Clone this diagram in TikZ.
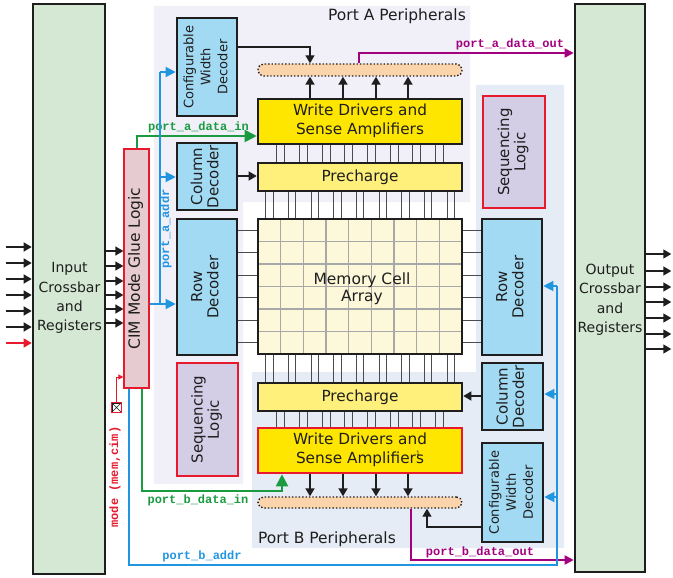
\documentclass[tikz,border=0pt]{standalone}
\usepackage{fontspec}
\usepackage{graphicx}
\setmainfont{DejaVu Sans}
\setmonofont{Liberation Mono}
\usetikzlibrary{arrows.meta,calc}
\definecolor{xbgreen}{HTML}{D5E8D4}
\definecolor{decblue}{HTML}{A2DAF3}
\definecolor{seqfill}{HTML}{D3CDE6}
\definecolor{gluefill}{HTML}{E6CCD1}
\definecolor{wdyellow}{HTML}{FFE600}
\definecolor{preyellow}{HTML}{FFF07C}
\definecolor{arrfill}{HTML}{FDF8D9}
\definecolor{busfill}{HTML}{FBD4AC}
\definecolor{bgA}{HTML}{F1EFF8}
\definecolor{bgB}{HTML}{E5ECF5}
\definecolor{sigred}{HTML}{E8192C}
\definecolor{siggreen}{HTML}{1A9B40}
\definecolor{sigblue}{HTML}{2196E0}
\definecolor{sigmag}{HTML}{A3007F}
\definecolor{ink}{HTML}{1E1E1E}
\definecolor{gridgray}{HTML}{A8A8A8}
\newcommand{\vtext}[3]{\rotatebox{90}{\fontsize{#1}{#2}\selectfont\begin{tabular}{@{}c@{}}#3\end{tabular}}}
\newcommand{\htext}[3]{{\fontsize{#1}{#2}\selectfont\begin{tabular}{@{}c@{}}#3\end{tabular}}}
\pgfdeclarelayer{bglayer}
\pgfdeclarelayer{wirelayer}
\pgfsetlayers{bglayer,wirelayer,main}
\begin{document}
\begin{tikzpicture}[x=1pt,y=-1pt,
  blk/.style={draw=ink,line width=2.6pt,inner sep=0pt,text=ink},
  deco/.style={blk,fill=decblue},
  seqbox/.style={draw=sigred,line width=2.6pt,fill=seqfill,inner sep=0pt,text=ink},
  busbox/.style={draw=ink,line width=1.4pt,dotted,fill=busfill,rounded corners=5.5pt,inner sep=0pt},
  karr/.style={draw=ink,line width=1.4pt,-{Triangle[length=8pt,width=9pt]}},
  busarr/.style={draw=ink,line width=1.8pt,-{Triangle[length=8pt,width=9pt]}},
  garr/.style={draw=siggreen,line width=2pt,-{Triangle[length=12pt,width=12pt]}},
  barr/.style={draw=sigblue,line width=1.3pt,-{Triangle[length=10pt,width=10pt]}},
  bline/.style={draw=sigblue,line width=1.3pt},
  marr/.style={draw=sigmag,line width=1.8pt,-{Triangle[length=9pt,width=9pt]}},
  rarr/.style={draw=sigred,line width=1pt,-{Triangle[length=5pt,width=5pt]}},
  wline/.style={draw=ink!80,line width=0.9pt},
  sig/.style={font=\fontsize{12}{12}\selectfont\ttfamily\bfseries,inner sep=0pt},
  plain/.style={text=ink,inner sep=0pt},
]
\useasboundingbox (0,0) rectangle (673,578);

% backgrounds
\begin{pgfonlayer}{bglayer}
\fill[bgA] (154,6) -- (470,6) -- (470,202) -- (243,202) -- (243,484) -- (154,484) -- cycle;
\fill[bgB] (476,85) -- (564,85) -- (564,548) -- (252,548) -- (252,372) -- (476,372) -- cycle;
\end{pgfonlayer}

% crossbars and glue
\node[blk,fill=xbgreen,minimum width=72pt,minimum height=570pt] (inbox) at (69,289) {};
\node[plain] (intxt) at (69.5,298) {\htext{14}{19.3}{Input\\Crossbar\\and\\Registers}};
\node[blk,fill=xbgreen,minimum width=70pt,minimum height=568pt] (outbox) at (610,288) {};
\node[plain] (outtxt) at (610,299.5) {\htext{14}{19.3}{Output\\Crossbar\\and\\Registers}};
\node[draw=sigred,line width=1.3pt,fill=gluefill,inner sep=0pt,text=ink,
  minimum width=25pt,minimum height=239pt] (glue) at (136.5,268.5)
  {\vtext{15.5}{17}{CIM Mode Glue Logic}};

% left column
\node[deco,minimum width=60pt,minimum height=98pt] (cwdA) at (207,67) {\vtext{13}{17}{Configurable\\Width\\Decoder}};
\node[deco,minimum width=60pt,minimum height=67pt] (colA) at (207,176.5) {\vtext{15}{16}{Column\\Decoder}};
\node[deco,minimum width=60pt,minimum height=136pt] (rowA) at (207,287) {\vtext{15}{16}{Row\\Decoder}};
\node[seqbox,minimum width=61pt,minimum height=113pt] (seqL) at (207.5,419.5) {\vtext{15}{16}{Sequencing\\Logic}};

% center column
\node[busbox,minimum width=204pt,minimum height=12pt] (busA) at (360,70) {};
\node[blk,fill=wdyellow,minimum width=204pt,minimum height=45pt] (wdA) at (360,121.5)
  {\htext{15.3}{19}{Write Drivers and\\Sense Amplifiers}};
\node[blk,fill=preyellow,minimum width=204pt,minimum height=28pt] (preA) at (360,177)
  {\fontsize{15.3}{17}\selectfont Precharge};
\node[blk,fill=arrfill,outer sep=0pt,minimum width=204pt,minimum height=135pt,
  path picture={
    \foreach \k in {1,...,8}{
      \draw[gridgray,line width=1.1pt]
        ($(path picture bounding box.north west)!\k/9!(path picture bounding box.north east)$) --
        ($(path picture bounding box.south west)!\k/9!(path picture bounding box.south east)$);}
    \foreach \k in {1,...,5}{
      \draw[gridgray,line width=1.1pt]
        ($(path picture bounding box.north west)!\k/6!(path picture bounding box.south west)$) --
        ($(path picture bounding box.north east)!\k/6!(path picture bounding box.south east)$);}
  }] (arr) at (360,286.5) {};
\draw[ink,line width=2.6pt] (arr.north west) rectangle (arr.south east);
\node[plain] (arrtxt) at (362,290) {\htext{15.5}{17}{Memory Cell\\Array}};
\node[blk,fill=preyellow,minimum width=204pt,minimum height=28pt] (preB) at (360,397)
  {\fontsize{15.3}{17}\selectfont Precharge};
\node[blk,draw=sigred,fill=wdyellow,minimum width=204pt,minimum height=45pt] (wdB) at (360,450.5)
  {\htext{15.3}{19}{Write Drivers and\\Sense Amplifiers}};
\node[plain,font=\fontsize{6}{6}\selectfont] (fnote) at (418,453) {1};
\node[busbox,minimum width=204pt,minimum height=11pt] (busB) at (360,502.5) {};

% right column
\node[seqbox,minimum width=62pt,minimum height=112pt] (seqR) at (514,152) {\vtext{15}{16}{Sequencing\\Logic}};
\node[deco,minimum width=60pt,minimum height=136pt] (rowB) at (512,287) {\vtext{15}{16}{Row\\Decoder}};
\node[deco,minimum width=61pt,minimum height=67pt] (colB) at (512.5,396.5) {\vtext{15}{16}{Column\\Decoder}};
\node[deco,minimum width=61pt,minimum height=99pt] (cwdB) at (512.5,492.5) {\vtext{13}{17}{Configurable\\Width\\Decoder}};

% titles
\node[plain,font=\fontsize{15.5}{17}\selectfont] (titleA) at (397,16) {Port A Peripherals};
\node[plain,font=\fontsize{15.5}{17}\selectfont] (titleB) at (327,539) {Port B Peripherals};

% word lines and bit lines
\begin{pgfonlayer}{wirelayer}
\foreach \y in {230.25,252.75,275.25,297.75,320.25,342.75}{
  \draw[wline] (rowA.east |- 0,\y) -- (arr.west |- 0,\y);
  \draw[wline] (arr.east |- 0,\y) -- (rowB.west |- 0,\y);
}
\foreach \k in {1,...,8}{
  \pgfmathsetmacro\xa{258+22.667*\k-4}
  \pgfmathsetmacro\xb{258+22.667*\k+4}
  \draw[wline] (\xa,0 |- wdA.south) -- (\xa,0 |- preA.north);
  \draw[wline] (\xb,0 |- wdA.south) -- (\xb,0 |- preA.north);
  \draw[wline] (\xa,0 |- preB.south) -- (\xa,0 |- wdB.north);
  \draw[wline] (\xb,0 |- preB.south) -- (\xb,0 |- wdB.north);
}
\foreach \k in {0,...,8}{
  \pgfmathsetmacro\xa{258+22.667*(\k+0.5)-3.7}
  \pgfmathsetmacro\xb{258+22.667*(\k+0.5)+3.7}
  \draw[wline] (\xa,0 |- preA.south) -- (\xa,0 |- arr.north);
  \draw[wline] (\xb,0 |- preA.south) -- (\xb,0 |- arr.north);
  \draw[wline] (\xa,0 |- arr.south) -- (\xa,0 |- preB.north);
  \draw[wline] (\xb,0 |- arr.south) -- (\xb,0 |- preB.north);
}
\end{pgfonlayer}

% input / output arrows
\foreach \y in {247,263,279,295,311,327}{
  \draw[karr] ([xshift=-26pt]inbox.west |- 0,\y) -- (inbox.west |- 0,\y);
}
\draw[karr,draw=sigred,line width=1.2pt] ([xshift=-26pt]inbox.west |- 0,343) -- (inbox.west |- 0,343);
\foreach \y in {251,266,281,295,309,323}{
  \draw[karr] (inbox.east |- 0,\y) -- (glue.west |- 0,\y);
}
\foreach \y in {254,271,287,302,318,334,349}{
  \draw[karr] (outbox.east |- 0,\y) -- ([xshift=25pt]outbox.east |- 0,\y);
}

% decoder to precharge
\draw[karr] (colA.east |- 0,176) -- (preA.west |- 0,176);
\draw[karr] (colB.west |- 0,396) -- (preB.east |- 0,396);

% write drivers to buses
\foreach \x in {310,343,376,408}{
  \draw[busarr] (\x,0 |- wdA.north) -- (\x,0 |- busA.south);
  \draw[busarr] (\x,0 |- wdB.south) -- (\x,0 |- busB.north);
}
\draw[karr] (cwdA.east |- 0,47) -| (310,0 |- busA.north);
\draw[karr] (cwdB.west |- 0,527) -| (427,0 |- busB.south);

% data out
\draw[marr] (359,0 |- busA.north) |- (outbox.west |- 0,53);
\draw[marr] (411,0 |- busB.south) |- (outbox.west |- 0,560);
\node[sig,text=sigmag] (lpado) at (510,44) {port\_a\_data\_out};
\node[sig,text=sigmag] (lpbdo) at (480,552) {port\_b\_data\_out};

% data in
\draw[garr] (glue.north) |- (wdA.west |- 0,136);
\node[sig,text=siggreen] (lpadi) at (198.5,127) {port\_a\_data\_in};
\draw[garr] (142,0 |- glue.south) |- (282,491) -- (282,0 |- wdB.south);
\node[sig,text=siggreen] (lpbdi) at (198,500) {port\_b\_data\_in};

% port A address
\coordinate (baddr) at (160,304);
\draw[barr] (glue.east |- baddr) -- (rowA.west |- baddr);
\draw[bline] (baddr) -- (160,72);
\draw[barr] (160,72) -- (cwdA.west |- 0,72);
\draw[barr] (160,177) -- (colA.west |- 0,177);
\node[sig,text=sigblue,rotate=90] (lpaa) at (166,229) {port\_a\_addr};

% port B address
\draw[bline] (129,0 |- glue.south) |- (557,565) -- (557,286);
\draw[barr] (557,286) -- (rowB.east |- 0,286);
\draw[barr] (557,394) -- (colB.east |- 0,394);
\draw[barr] (557,497) -- (cwdB.east |- 0,497);
\node[sig,text=sigblue] (lpba) at (202,556) {port\_b\_addr};

% mode input
\node[draw=ink,line width=0.7pt,fill=white,minimum size=9pt,inner sep=0pt,
  path picture={\draw[ink,line width=0.6pt]
    (path picture bounding box.south west) -- (path picture bounding box.north east)
    (path picture bounding box.north west) -- (path picture bounding box.south east);}]
  (modex) at (116.5,407.5) {};
\draw[sigred,line width=0.8pt] (modex.north west) rectangle (modex.south east);
\draw[rarr] (modex.north) |- (glue.west |- 0,377);
\node[sig,text=sigred,rotate=90] (lmode) at (115,477) {mode (mem,cim)};
\end{tikzpicture}
\end{document}
